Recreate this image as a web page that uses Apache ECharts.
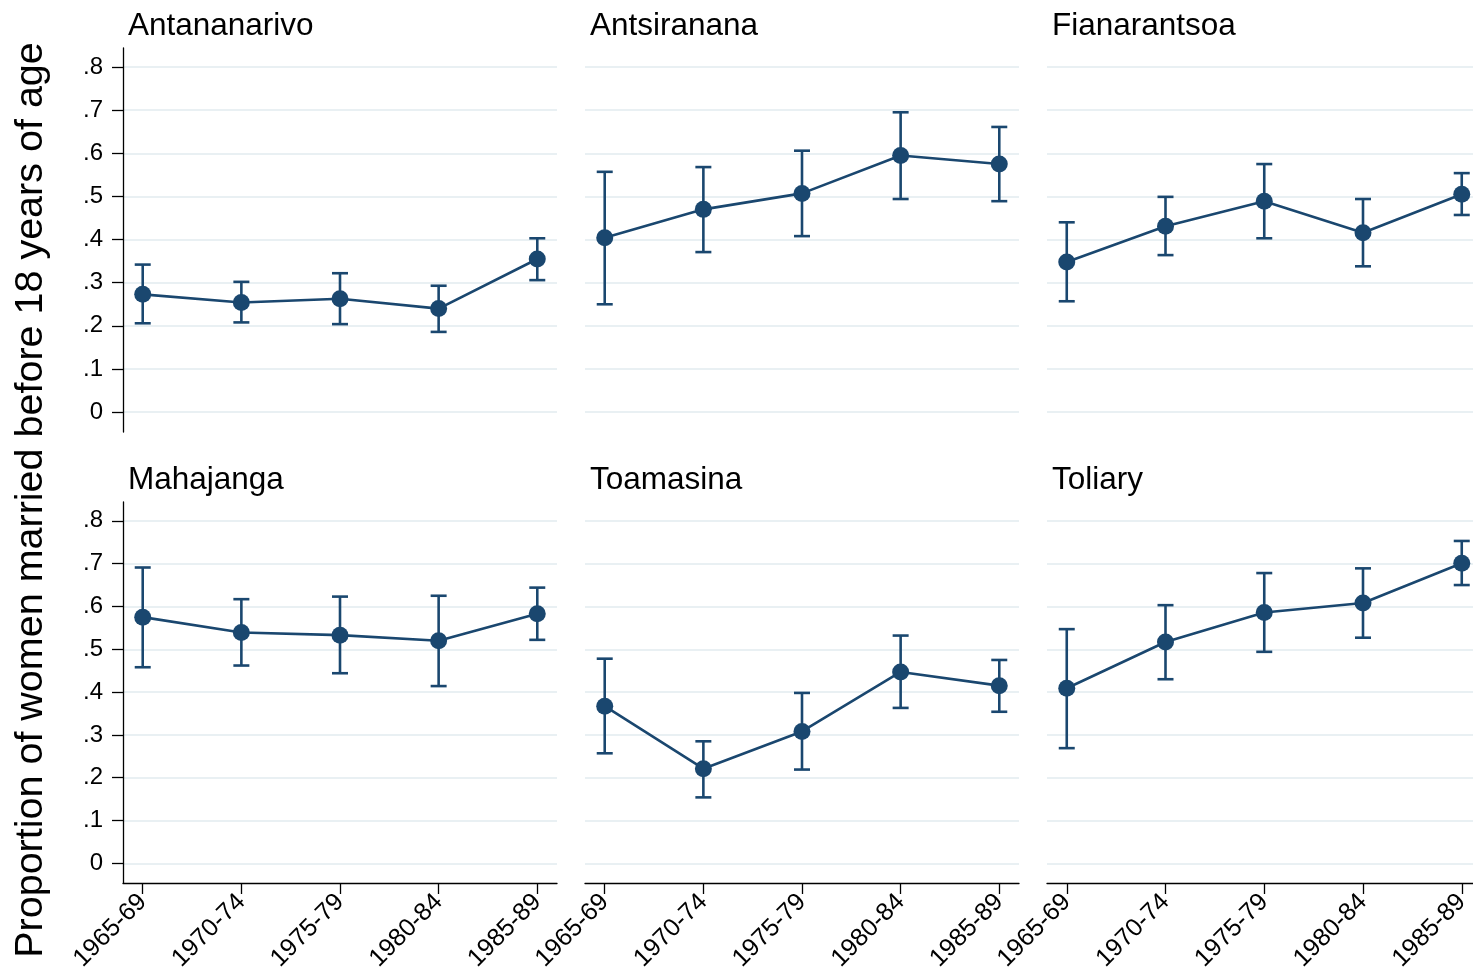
<!DOCTYPE html>
<html>
<head>
<meta charset="utf-8">
<script src="https://cdn.jsdelivr.net/npm/echarts@6/dist/echarts.min.js"></script>
<style>
html,body{margin:0;padding:0;background:#fff;}
#chart{width:1473px;height:976px;}
</style>
</head>
<body>
<div id="chart"></div>
<script>
// ---- data ----
const periods = ['1965-69', '1970-74', '1975-79', '1980-84', '1985-89'];
const regionNames = ['Antananarivo', 'Antsiranana', 'Fianarantsoa', 'Mahajanga', 'Toamasina', 'Toliary'];
const yTickValues = [0, 0.1, 0.2, 0.3, 0.4, 0.5, 0.6, 0.7, 0.8];
const yAxisTitle = 'Proportion of women married before 18 years of age';

const antananarivoMean = [0.273, 0.254, 0.263, 0.240, 0.355];
const antananarivoLow  = [0.206, 0.208, 0.204, 0.186, 0.306];
const antananarivoHigh = [0.342, 0.302, 0.322, 0.293, 0.403];

const antsirananaMean = [0.404, 0.470, 0.507, 0.595, 0.575];
const antsirananaLow  = [0.250, 0.371, 0.408, 0.494, 0.489];
const antsirananaHigh = [0.557, 0.568, 0.606, 0.695, 0.661];

const fianarantsoaMean = [0.348, 0.431, 0.489, 0.416, 0.505];
const fianarantsoaLow  = [0.257, 0.364, 0.403, 0.338, 0.457];
const fianarantsoaHigh = [0.440, 0.499, 0.575, 0.494, 0.554];

const mahajangaMean = [0.575, 0.539, 0.533, 0.520, 0.583];
const mahajangaLow  = [0.458, 0.462, 0.444, 0.414, 0.522];
const mahajangaHigh = [0.691, 0.617, 0.623, 0.625, 0.644];

const toamasinaMean = [0.367, 0.221, 0.308, 0.447, 0.415];
const toamasinaLow  = [0.257, 0.154, 0.219, 0.363, 0.354];
const toamasinaHigh = [0.478, 0.285, 0.398, 0.532, 0.475];

const toliaryMean = [0.409, 0.517, 0.586, 0.608, 0.701];
const toliaryLow  = [0.269, 0.430, 0.494, 0.527, 0.650];
const toliaryHigh = [0.547, 0.603, 0.678, 0.689, 0.753];

const panelMeans = [antananarivoMean, antsirananaMean, fianarantsoaMean, mahajangaMean, toamasinaMean, toliaryMean];
const panelLows  = [antananarivoLow, antsirananaLow, fianarantsoaLow, mahajangaLow, toamasinaLow, toliaryLow];
const panelHighs = [antananarivoHigh, antsirananaHigh, fianarantsoaHigh, mahajangaHigh, toamasinaHigh, toliaryHigh];

// ---- layout / style ----
const FONT = "'Liberation Sans', Arial, Helvetica, sans-serif";
const NAVY = '#1a476f';
const GRIDC = '#e9f0f3';
const colLefts = [123, 585, 1047];
const colWidths = [434, 434, 426];      // last column is cut by the page edge
const xMins = [0.8, 0.8, 0.8];
const xMaxs = [5.2, 5.2, 0.8 + 426 / 98.75];
const rows = [{top: 48, height: 384}, {top: 502, height: 381}];
const xPositions = periods.map((p, i) => i + 1);

const chart = echarts.init(document.getElementById('chart'), null, {renderer: 'canvas'});

const grids = [], xAxes = [], yAxes = [], series = [], titles = [];
regionNames.forEach((name, k) => {
  const r = Math.floor(k / 3), c = k % 3;
  grids.push({left: colLefts[c], top: rows[r].top, width: colWidths[c], height: rows[r].height, containLabel: false});
  const bottomRow = r === 1, leftCol = c === 0;
  xAxes.push({
    type: 'value', gridIndex: k, min: xMins[c], max: xMaxs[c],
    axisLine: {show: bottomRow, onZero: false, lineStyle: {color: '#000', width: 1.3}},
    axisTick: {show: bottomRow, length: 11, customValues: xPositions, lineStyle: {color: '#000', width: 1.3}},
    axisLabel: {
      show: bottomRow, customValues: xPositions, rotate: 45, margin: 15,
      fontFamily: FONT, fontSize: 25, color: '#000',
      formatter: v => periods[Math.round(v) - 1]
    },
    splitLine: {show: false}
  });
  yAxes.push({
    type: 'value', gridIndex: k, min: -0.046, max: 0.844,
    axisLine: {show: leftCol, onZero: false, lineStyle: {color: '#000', width: 1.3}},
    axisTick: {show: leftCol, length: 11, customValues: yTickValues, lineStyle: {color: '#000', width: 1.3}},
    axisLabel: {
      show: leftCol, customValues: yTickValues, margin: 20,
      fontFamily: FONT, fontSize: 24, color: '#000',
      formatter: v => (Math.abs(v) < 1e-9 ? '0' : v.toFixed(1).replace(/^0\./, '.'))
    },
    splitLine: {show: true, lineStyle: {color: GRIDC, width: 2}}
  });
  titles.push({
    text: name, left: colLefts[c] + 5, top: rows[r].top - 38, padding: 0,
    textStyle: {fontFamily: FONT, fontSize: 31.5, fontWeight: 'normal', color: '#000'}
  });
  const means = panelMeans[k], lows = panelLows[k], highs = panelHighs[k];
  series.push({
    type: 'custom', xAxisIndex: k, yAxisIndex: k, z: 2,
    data: xPositions.map((x, i) => [x, lows[i], highs[i]]),
    encode: {x: 0, y: [1, 2]},
    renderItem: (params, api) => {
      const x = api.value(0);
      const pLo = api.coord([x, api.value(1)]);
      const pHi = api.coord([x, api.value(2)]);
      const cw = 8;
      const st = {stroke: NAVY, lineWidth: 2.6, fill: null};
      return {type: 'group', children: [
        {type: 'line', shape: {x1: pHi[0], y1: pHi[1], x2: pLo[0], y2: pLo[1]}, style: st},
        {type: 'line', shape: {x1: pHi[0] - cw, y1: pHi[1], x2: pHi[0] + cw, y2: pHi[1]}, style: st},
        {type: 'line', shape: {x1: pLo[0] - cw, y1: pLo[1], x2: pLo[0] + cw, y2: pLo[1]}, style: st}
      ]};
    }
  });
  series.push({
    type: 'line', xAxisIndex: k, yAxisIndex: k, z: 3,
    data: xPositions.map((x, i) => [x, means[i]]),
    symbol: 'circle', symbolSize: 17, showSymbol: true,
    lineStyle: {color: NAVY, width: 2.6},
    itemStyle: {color: NAVY}
  });
});

chart.setOption({
  animation: false,
  backgroundColor: '#fff',
  title: titles,
  grid: grids,
  xAxis: xAxes,
  yAxis: yAxes,
  series: series,
  graphic: [{
    type: 'text', x: 31, y: 500, rotation: Math.PI / 2,
    style: {text: yAxisTitle, fontFamily: FONT, fontSize: 39.5, fill: '#000', align: 'center', verticalAlign: 'middle'}
  }]
});
</script>
</body>
</html>
